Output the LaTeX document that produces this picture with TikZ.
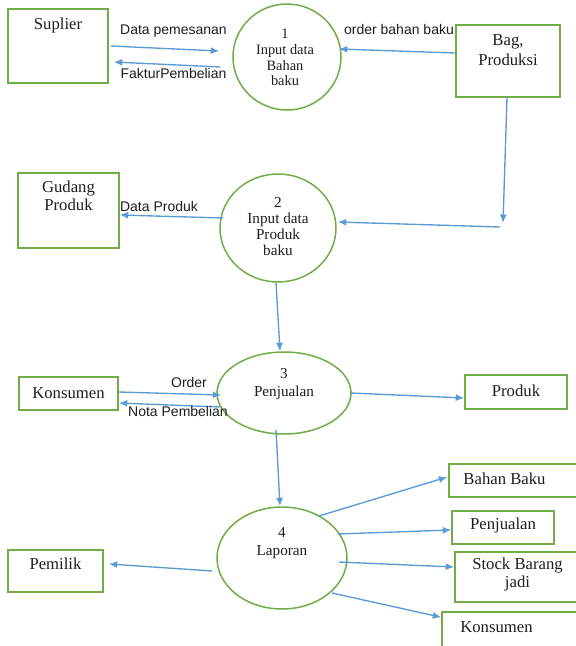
\documentclass[tikz,border=0pt]{standalone}
\usepackage{fontspec}
\setmainfont{Liberation Serif}
\newfontfamily\labfont{Liberation Sans}
\usetikzlibrary{shapes.geometric,arrows.meta,calc}
\definecolor{boxgreen}{RGB}{112,173,71}
\definecolor{arrblue}{RGB}{91,155,213}
\definecolor{txt}{RGB}{30,30,30}
\begin{document}
\begin{tikzpicture}[x=1pt,y=-1pt,
 box/.style={draw=boxgreen, line width=1.5pt, rectangle, inner sep=0pt},
 proc/.style={draw=boxgreen, line width=1.5pt, ellipse, inner sep=0pt},
 btxt/.style={font=\fontsize{16.7}{18}\selectfont, text=txt, align=center, inner sep=0pt},
 ptxt/.style={font=\fontsize{15.2}{16.3}\selectfont, text=txt, align=center, inner sep=0pt},
 ltxt/.style={font=\labfont\fontsize{14}{16}\selectfont, text=txt, inner sep=0pt, text height=10pt, text depth=3pt},
 flow/.style={draw=arrblue, line width=1.35pt, -{Latex[length=8.5pt,width=7pt]}},
]
\fill[white] (0,0) rectangle (576,646);
\useasboundingbox (0,0) rectangle (576,646);

% external entities
\node[box, minimum width=100pt, minimum height=74pt] (sup) at (58,46) {};
\node[btxt] (supt) at (58,25) {Suplier};
\node[box, minimum width=104pt, minimum height=72pt] (bag) at (508,61) {};
\node[btxt, font=\fontsize{16.7}{20.5}\selectfont] (bagt) at (508,50) {Bag,\\Produksi};
\node[box, minimum width=101pt, minimum height=75pt] (gud) at (68.5,210.5) {};
\node[btxt, font=\fontsize{16.7}{17.5}\selectfont] (gudt) at (68.5,196) {Gudang\\Produk};
\node[box, minimum width=99pt, minimum height=33pt] (kon) at (68.5,393.5) {};
\node[btxt] (kont) at (68.5,393) {Konsumen};
\node[box, minimum width=102pt, minimum height=34pt] (prod) at (516,392) {};
\node[btxt] (prodt) at (516,391) {Produk};
\node[box, minimum width=95pt, minimum height=42pt] (pem) at (55.5,571) {};
\node[btxt] (pemt) at (55.5,564) {Pemilik};
\node[box, minimum width=141pt, minimum height=33pt] (bb) at (519.5,480.5) {};
\node[btxt] (bbt) at (504.5,479) {Bahan Baku};
\node[box, minimum width=102pt, minimum height=33pt] (pj) at (503,527.5) {};
\node[btxt] (pjt) at (503,525) {Penjualan};
\node[box, minimum width=135pt, minimum height=50pt] (stock) at (522.5,577) {};
\node[btxt] (stockt) at (517.5,574) {Stock Barang\\jadi};
\node[box, minimum width=148pt, minimum height=48pt] (kon2) at (516,636) {};
\node[btxt] (kon2t) at (496.5,627) {Konsumen};

% processes
\node[proc, minimum width=108pt, minimum height=106pt] (c1) at (287,57) {};
\node[ptxt, font=\fontsize{14.4}{15.7}\selectfont] (c1t) at (285,57.5) {1\\Input data\\Bahan\\baku};
\node[proc, minimum width=116pt, minimum height=108pt] (c2) at (278,228) {};
\node[ptxt] (c2t) at (278,226.5) {2\\Input data\\Produk\\baku};
\node[proc, minimum width=134pt, minimum height=82pt] (c3) at (284,393) {};
\node[ptxt, font=\fontsize{15.2}{17.5}\selectfont] (c3t) at (284,384) {3\\Penjualan};
\node[proc, minimum width=130pt, minimum height=102pt] (c4) at (282,558) {};
\node[ptxt, font=\fontsize{15.2}{17.5}\selectfont] (c4t) at (282,543) {4\\Laporan};

% corner points of the bent flow
\coordinate (k1) at (503,223);
\coordinate (k2) at (500,227);

% flows
\draw[flow] ($(sup.east)+(2,0)$) -- ($(c1.west)+(-13,-6)$);
\draw[flow] ($(c1.west)+(-12,10)$) -- ($(sup.east)+(5,16)$);
\draw[flow] ($(bag.west)+(0,-8)$) -- ($(c1.east)+(-3,-8)$);
\draw[flow] ($(bag.south)+(-1,0)$) -- (k1);
\draw[flow] (k2) -- ($(c2.east)+(1,-6)$);
\draw[flow] ($(c2.west)+(4,-10)$) -- ($(gud.east)+(0,4.5)$);
\draw[flow] ($(c2.south)+(-2,0)$) -- ($(c3.north)+(-4,0)$);
\draw[flow] ($(kon.east)+(0,-1.5)$) -- ($(c3.west)+(5,2)$);
\draw[flow] ($(c3.west)+(4,14)$) -- ($(kon.east)+(0,9.5)$);
\draw[flow] ($(c3.east)+(-1,0)$) -- ($(prod.west)+(0,6)$);
\draw[flow] ($(c3.south)+(-8,-5)$) -- ($(c4.north)+(-2,0)$);
\draw[flow] ($(c4.west)+(-4,13)$) -- ($(pem.east)+(5,-7)$);
\draw[flow] ($(c4.center)+(37,-42)$) -- ($(bb.west)+(-1,-3.5)$);
\draw[flow] ($(c4.center)+(56,-24)$) -- ($(pj.west)+(0,2.5)$);
\draw[flow] ($(c4.center)+(57,4)$) -- ($(stock.west)+(0,-10)$);
\draw[flow] ($(c4.center)+(50,35)$) -- ($(kon2.north west)+(0,6)$);

% flow labels
\node[ltxt] (l1) at (173.5,31) {Data pemesanan};
\node[ltxt] (l2) at (173.5,75) {FakturPembelian};
\node[ltxt] (l3) at (399,31) {order bahan baku};
\node[ltxt] (l4) at (159,208) {Data Produk};
\node[ltxt] (l5) at (189,384) {Order};
\node[ltxt] (l6) at (178,413) {Nota Pembelian};
\end{tikzpicture}
\end{document}
